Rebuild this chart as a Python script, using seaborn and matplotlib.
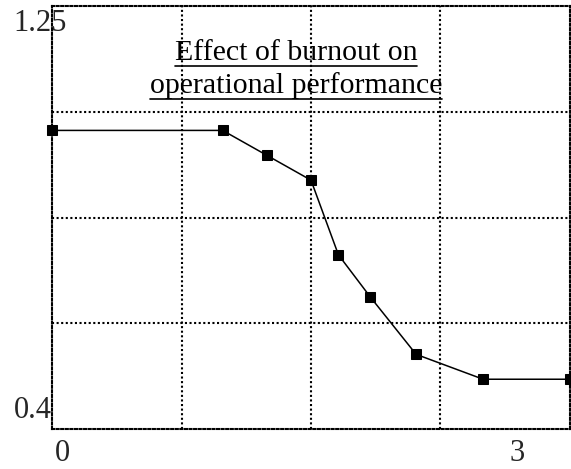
import numpy as np
import pandas as pd
import matplotlib
matplotlib.use('Agg')
import matplotlib.pyplot as plt
import matplotlib.transforms as mtransforms
import seaborn as sns

# values
burnout = [0.0, 1.12, 1.41, 1.70, 1.88, 2.09, 2.39, 2.83, 3.4]
performance = [1.0, 1.0, 0.95, 0.9, 0.75, 0.665, 0.55, 0.5, 0.5]
x_ticks = [0, 3]
x_tick_labels = ['0', '3']
y_ticks = [0.4, 1.25]
y_tick_labels = ['0.4', '1.25']
title_lines = ['Effect of burnout on', 'operational performance']

df = pd.DataFrame({'burnout': burnout, 'performance': performance})

sns.set_style('white')
plt.rcParams['font.family'] = ['Liberation Serif', 'DejaVu Serif']

fig = plt.figure(figsize=(5.71, 4.69), dpi=100)
ax = fig.add_axes([52 / 571, 40 / 469, 518 / 571, 423 / 469])

sns.lineplot(ax=ax, data=df, x='burnout', y='performance', color='black',
             linewidth=1.1, marker='s', markersize=7.5, markeredgecolor='black',
             clip_on=False, zorder=5)

ax.set_xlim(0, 3.4)
ax.set_ylim(0.4, 1.25)

# dotted grid on 4x4 cells
ax.set_xticks(np.linspace(0, 3.4, 5)[1:-1], minor=True)
ax.set_yticks(np.linspace(0.4, 1.25, 5)[1:-1], minor=True)
ax.grid(which='minor', color='black', linestyle=(0, (1, 1.2)), linewidth=1.5)
ax.grid(which='major', visible=False)
for s in ax.spines.values():
    s.set_visible(True)
    s.set_color('black')
    s.set_linestyle((0, (1, 1.2)))
    s.set_linewidth(1.5)

ax.set_xticks(x_ticks)
ax.set_xticklabels(x_tick_labels, fontsize=22)
ax.set_yticks(y_ticks)
ax.set_yticklabels(y_tick_labels, fontsize=22)
ax.tick_params(which='both', length=0)
ax.tick_params(axis='x', pad=7)
ax.tick_params(axis='y', pad=0)
ax.set_xlabel('')
ax.set_ylabel('')

# shift tick labels to where the reference puts them
xl = ax.get_xticklabels()
xl[0].set_transform(xl[0].get_transform() + mtransforms.ScaledTranslation(0.10, 0, fig.dpi_scale_trans))
xl[1].set_transform(xl[1].get_transform() + mtransforms.ScaledTranslation(0.08, 0, fig.dpi_scale_trans))
yl = ax.get_yticklabels()
yl[0].set_va('bottom')
yl[0].set_transform(yl[0].get_transform() + mtransforms.ScaledTranslation(0, 0.04, fig.dpi_scale_trans))
yl[1].set_va('top')
yl[1].set_transform(yl[1].get_transform() + mtransforms.ScaledTranslation(0.15, -0.03, fig.dpi_scale_trans))

# underlined title inside the plot
fig.canvas.draw()
renderer = fig.canvas.get_renderer()
for line, yb in zip(title_lines, [0.872, 0.795]):
    t = ax.text(0.471, yb, line, transform=ax.transAxes, ha='center',
                va='baseline', fontsize=21.5, color='black', zorder=6)
    bb = t.get_window_extent(renderer).transformed(ax.transAxes.inverted())
    uy = yb - 6 / 423
    ax.plot([bb.x0, bb.x1], [uy, uy], transform=ax.transAxes, color='black',
            linewidth=1.2, zorder=6)

fig.savefig('out.png', dpi=100)
